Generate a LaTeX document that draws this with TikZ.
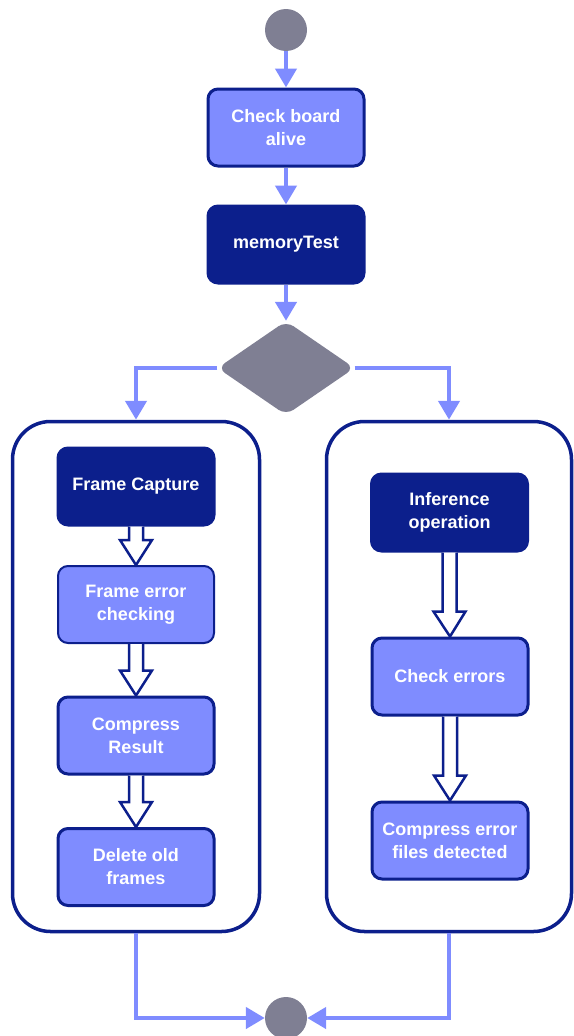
\documentclass[tikz,border=0pt]{standalone}
\usepackage{fontspec}
\setmainfont{Liberation Sans}
\usetikzlibrary{arrows.meta,shapes.geometric,calc}

\definecolor{navy}{HTML}{0C1F8C}
\definecolor{periwinkle}{HTML}{7F8CFF}
\definecolor{slategrey}{HTML}{7F7F93}

\tikzset{
  lightbox/.style={draw=navy, line width=3pt, fill=periwinkle, rounded corners=10pt,
    minimum width=156pt, minimum height=77pt, text=white, align=center,
    font=\fontsize{18}{23}\selectfont\bfseries},
  darkbox/.style={lightbox, fill=navy},
  lane/.style={draw=navy, line width=3.5pt, rounded corners=38pt, fill=white},
  flow/.style={draw=periwinkle, line width=4.5pt, -{Triangle[width=21pt,length=19pt]}},
  hollowarr/.style={draw=navy, line width=2.5pt, fill=white, line join=miter},
  terminal/.style={circle, fill=slategrey, minimum size=42pt, inner sep=0pt},
}

% hollow arrow from one box down to the next
\newcommand\hollowlink[2]{%
  \draw[hollowarr] let \p1=(#1.south), \p2=(#2.north) in
    (\x1-7,\y1) -- (\x1-7,\y2+25) -- (\x1-16,\y2+25) -- (\x2,\y2)
    -- (\x1+16,\y2+25) -- (\x1+7,\y2+25) -- (\x1+7,\y1);}

\begin{document}
\begin{tikzpicture}[x=1pt, y=-1pt]
    \useasboundingbox (0,0) rectangle (573,1036);

    % main line
    \node[terminal] (start) at (286,30) {};
    \node[lightbox] (check) at (286,127.5) {Check board\\alive};
    \node[darkbox] (memtest) at (286,244.5) {memoryTest};
    \node[diamond, fill=slategrey, rounded corners=9pt, minimum width=137pt,
          minimum height=94pt, inner sep=0pt] (decision) at (286,368) {};

    \draw[flow] (start) -- (check);
    \draw[flow] (check) -- (memtest);
    \draw[flow] (memtest) -- (decision);

    % lanes
    \node[lane, minimum width=247pt, minimum height=510pt] (leftlane) at (136,676.5) {};
    \node[lane, minimum width=245pt, minimum height=510pt] (rightlane) at (449,676.5) {};

    \draw[flow] (decision.west) -| (leftlane.north);
    \draw[flow] (decision.east) -| (rightlane.north);

    % capture lane
    \node[darkbox] (framecap) at (136,486.5) {Frame Capture};
    \node[lightbox, line width=2pt] (frameerr) at (136,604.5) {Frame error\\checking};
    \node[lightbox] (compress) at (136,735.5) {Compress\\Result};
    \node[lightbox] (deleteold) at (136,867) {Delete old\\frames};

    \hollowlink{framecap}{frameerr}
    \hollowlink{frameerr}{compress}
    \hollowlink{compress}{deleteold}

    % inference lane
    \node[darkbox] (inference) at (449.5,512.5) {Inference\\operation};
    \node[lightbox] (checkerr) at (450,676.5) {Check errors};
    \node[lightbox] (compresserr) at (450,840.5) {Compress error\\files detected};

    \hollowlink{inference}{checkerr}
    \hollowlink{checkerr}{compresserr}

    % join
    \node[terminal] (finish) at (286,1018) {};
    \draw[flow] (leftlane.south) |- (finish.west);
    \draw[flow] (rightlane.south) |- (finish.east);
\end{tikzpicture}
\end{document}
